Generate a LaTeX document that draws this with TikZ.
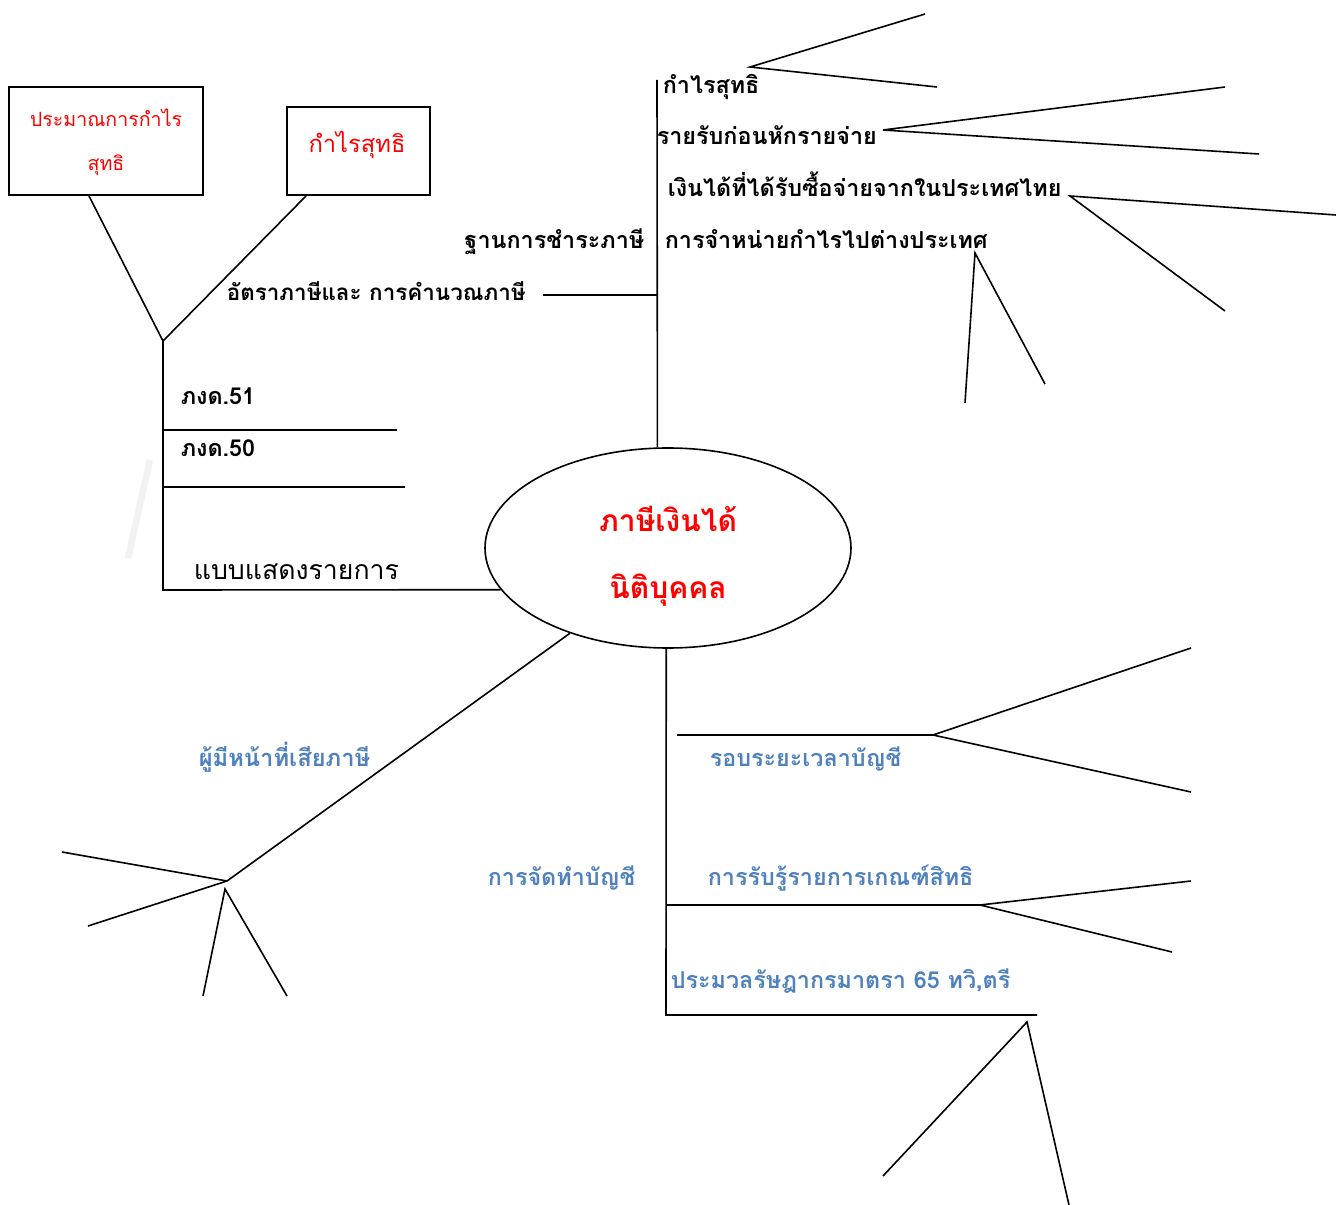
\documentclass[tikz,border=0pt]{standalone}
\usepackage{fontspec}
\newfontfamily\thai[Script=Thai]{Loma}
\usetikzlibrary{shapes.geometric,calc}
\definecolor{myblue}{HTML}{4F81BD}
\begin{document}
\begin{tikzpicture}[x=0.75pt,y=-0.75pt,line width=1.2pt,
  blk/.style={font=\thai\bfseries\fontsize{17.5}{20}\selectfont,inner sep=0pt,anchor=base west},
  blu/.style={font=\thai\bfseries\fontsize{17.5}{20}\selectfont,inner sep=0pt,anchor=base west,text=myblue},
  redt/.style={font=\thai\fontsize{14.7}{17}\selectfont,inner sep=0pt,anchor=base,text=red},
  redc/.style={font=\thai\bfseries\fontsize{22.5}{26}\selectfont,inner sep=0pt,anchor=base,text=red},
  boxn/.style={draw,inner sep=0pt},
  ln/.style={line width=1.2pt}]
\useasboundingbox (0,0) rectangle (1336,1205);
% faint mark
\draw[line width=5pt,black!5] (150,460) -- (128,558);
% boxes
\node[boxn,minimum width=145.5pt,minimum height=81pt] (b1) at (106,141) {};
\node[boxn,minimum width=107.25pt,minimum height=66pt] (b2) at (358.5,151) {};
\node[redt] (t1) at (106,127) {ประมาณการกำไร};
\node[redt] (t2) at (106,171) {สุทธิ};
\node[redt,font=\thai\fontsize{17.8}{20}\selectfont] (t3) at (357,153) {กำไรสุทธิ};
% ellipse
\node[draw,ellipse,minimum width=274.5pt,minimum height=150pt,line width=1.2pt] (c) at (668,548) {};
\node[redc] (ct1) at (668,532) {ภาษีเงินได้};
\node[redc] (ct2) at (668,598) {นิติบุคคล};
% coordinates
\coordinate (b1s) at (89,196);
\coordinate (b2s) at (306,196);
\coordinate (j1) at (163,341);
\coordinate (j2) at (163,590);
\coordinate (h1a) at (163,430); \coordinate (h1b) at (397,430);
\coordinate (h2a) at (163,487); \coordinate (h2b) at (405,487);
\coordinate (vt) at (657,80);
\coordinate (vm) at (657,295); \coordinate (vl) at (543,295);
\coordinate (vb) at (666,1015);
\coordinate (bm) at (666,905);
\coordinate (be) at (1037,1015);
\coordinate (r1a) at (677,735); \coordinate (r1b) at (933,735);
\coordinate (r2b) at (980,905);
% left tree
\draw[ln] (b1s) -- (j1) -- (b2s);
\draw[ln] (j1) -- (j2) -- (c.194);
\draw[ln] (h1a) -- (h1b);
\draw[ln] (h2a) -- (h2b);
% top
\draw[ln] (c.96) -- (vt);
\draw[ln] (vl) -- (vm);
% top fans
\coordinate (f1) at (750,67); \coordinate (f1a) at (925,14); \coordinate (f1b) at (937,87);
\coordinate (f2) at (883,130); \coordinate (f2a) at (1225,87); \coordinate (f2b) at (1259,154);
\coordinate (f3) at (1070,196); \coordinate (f3a) at (1336,215); \coordinate (f3b) at (1225,311);
\coordinate (f4) at (975,253); \coordinate (f4a) at (965,403); \coordinate (f4b) at (1045,384);
\draw[ln] (f1a) -- (f1) -- (f1b);
\draw[ln] (f2a) -- (f2) -- (f2b);
\draw[ln] (f3a) -- (f3) -- (f3b);
\draw[ln] (f4a) -- (f4) -- (f4b);
% bottom
\draw[ln] (c.269) -- (vb) -- (be);
\draw[ln] (bm) -- (r2b);
\draw[ln] (r1a) -- (r1b);
\coordinate (g1a) at (1191,648); \coordinate (g1b) at (1191,792);
\coordinate (g2a) at (1191,881); \coordinate (g2b) at (1172,952);
\coordinate (g3) at (1027,1022); \coordinate (g3a) at (883,1176); \coordinate (g3b) at (1069,1205);
\draw[ln] (g1a) -- (r1b) -- (g1b);
\draw[ln] (g2a) -- (r2b) -- (g2b);
\draw[ln] (g3a) -- (g3) -- (g3b);
% lower left
\coordinate (k) at (227,881); \coordinate (k2) at (225,889);
\coordinate (ka) at (62,852); \coordinate (kb) at (88,926);
\coordinate (kc) at (203,996); \coordinate (kd) at (287,996);
\draw[ln] (c.221) -- (k) -- (ka);
\draw[ln] (k) -- (kb);
\draw[ln] (kc) -- (k2) -- (kd);
% black labels
\node[blk] (l1) at (662,94) {กำไรสุทธิ};
\node[blk] (l2) at (656,145) {รายรับก่อนหักรายจ่าย};
\node[blk] (l3) at (667,197) {เงินได้ที่ได้รับซื้อจ่ายจากในประเทศไทย};
\node[blk] (l4) at (664,249) {การจำหน่ายกำไรไปต่างประเทศ};
\node[blk,anchor=base east] (l5) at (645,249) {ฐานการชำระภาษี};
\node[blk,font=\thai\bfseries\fontsize{16.8}{20}\selectfont] (l6) at (226,301) {อัตราภาษีและ การคำนวณภาษี};
\node[blk] (l7) at (180,405) {ภงด.51};
\node[blk] (l8) at (180,457) {ภงด.50};
\node[blk,font=\thai\fontsize{20}{23}\selectfont] (l9) at (193,580) {แบบแสดงรายการ};
% blue labels
\node[blu] (m1) at (709,766) {รอบระยะเวลาบัญชี};
\node[blu] (m2) at (707,885) {การรับรู้รายการเกณฑ์สิทธิ};
\node[blu] (m3) at (670,988) {ประมวลรัษฎากรมาตรา 65 ทวิ,ตรี};
\node[blu] (m4) at (487,885) {การจัดทำบัญชี};
\node[blu,font=\thai\bfseries\fontsize{17.8}{20}\selectfont] (m5) at (198,766) {ผู้มีหน้าที่เสียภาษี};
\end{tikzpicture}
\end{document}
